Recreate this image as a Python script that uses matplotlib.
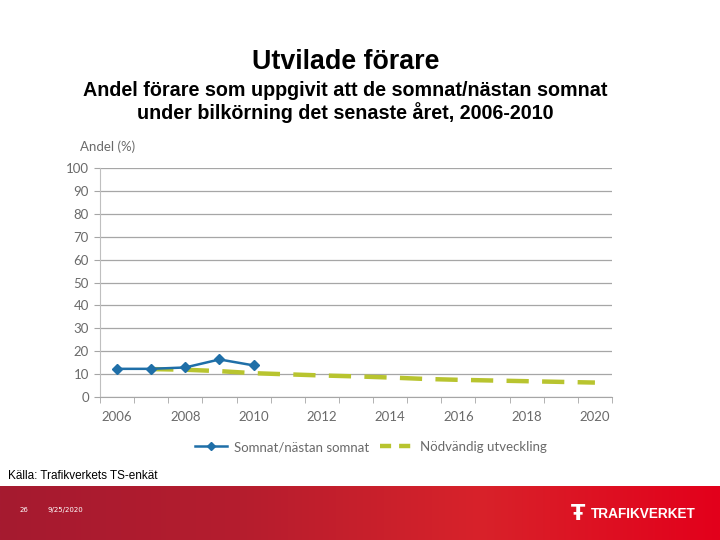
import numpy as np
import matplotlib
matplotlib.use("Agg")
import matplotlib.pyplot as plt
from matplotlib.colors import LinearSegmentedColormap

years = list(range(2006, 2021))
somnat_years = [2006, 2007, 2008, 2009, 2010]
somnat_vals = [12.3, 12.3, 12.9, 16.4, 13.8]
nodv_years = list(range(2007, 2021))
nodv_vals = [12.2, 11.9, 11.3, 10.4, 9.9, 9.4, 9.0, 8.5, 7.9, 7.5, 7.2, 6.9, 6.6, 6.3]
yticks = list(range(0, 101, 10))
xlabels = [str(y) for y in range(2006, 2021, 2)]

fig = plt.figure(figsize=(7.2, 5.4), dpi=100)

# Titles
fig.text(0.48, 1-62/540, "Utvilade förare", ha="center", va="center",
         fontsize=19.3, fontweight="bold", family="Liberation Sans")
fig.text(0.48, 1-90/540, "Andel förare som uppgivit att de somnat/nästan somnat",
         ha="center", va="center", fontsize=14.2, fontweight="bold", family="Liberation Sans")
fig.text(0.48, 1-113/540, "under bilkörning det senaste året, 2006-2010",
         ha="center", va="center", fontsize=14.2, fontweight="bold", family="Liberation Sans")

ax = fig.add_axes([100/720, 1-397/540, 512/720, 229/540])
pos = {y: i for i, y in enumerate(years)}
ax.plot([pos[y] for y in nodv_years], nodv_vals, color="#b8c42f", lw=3.2,
        dashes=(5, 3), zorder=3, label="Nödvändig utveckling")
ax.plot([pos[y] for y in somnat_years], somnat_vals, color="#1f6fa8", lw=1.8,
        marker="D", ms=5.5, zorder=4, label="Somnat/nästan somnat")

ax.set_xlim(-0.5, len(years) - 0.5)
ax.set_ylim(0, 100)
ax.set_yticks(yticks)
ax.set_xticks([pos[int(l)] for l in xlabels])
ax.set_xticklabels(xlabels)
ax.set_xticks(np.arange(-0.5, len(years), 1.0), minor=True)
ax.tick_params(axis="x", which="major", length=0, pad=10, labelsize=9.5, labelcolor="#6a6a6a")
ax.tick_params(axis="x", which="minor", length=4, color="#a6a6a6", direction="out")
ax.tick_params(axis="y", length=4, color="#a6a6a6", labelsize=9.5, labelcolor="#6a6a6a", pad=4)
for lab in ax.get_xticklabels() + ax.get_yticklabels():
    lab.set_family("Lato")
ax.grid(axis="y", color="#a6a6a6", lw=0.9)
ax.set_axisbelow(True)
for s in ["top", "right"]:
    ax.spines[s].set_visible(False)
ax.spines["left"].set_color("#bfbfbf")
ax.spines["bottom"].set_color("#a6a6a6")
ax.text(-0.04, 1.095, "Andel (%)", transform=ax.transAxes, fontsize=9.5,
        color="#6a6a6a", family="Lato", ha="left", va="center")

h, l = ax.get_legend_handles_labels()
leg = fig.legend(h[::-1], l[::-1], loc="center", bbox_to_anchor=(0.515, 1-447/540), ncol=2,
                 frameon=False, handlelength=2.4, columnspacing=0.8, handletextpad=0.6,
                 prop={"family": "Lato", "size": 9.5})
for t in leg.get_texts():
    t.set_color("#6a6a6a")
leg.get_lines()[0].set_markersize(4)
leg.get_lines()[1].set_dashes((2.5, 1.8))

fig.text(8/720, 1-476/540, "Källa: Trafikverkets TS-enkät", fontsize=8.5,
         family="Liberation Sans", va="center", ha="left")

# Footer band
fax = fig.add_axes([0, 0, 1, 54/540])
cmap = LinearSegmentedColormap.from_list("r", ["#a51a30", "#b51d2e", "#d8222a", "#e3001b"])
grad = np.linspace(0, 1, 256).reshape(1, -1)
fax.imshow(grad, aspect="auto", cmap=cmap, extent=[0, 1, 0, 1])
fax.set_xlim(0, 1); fax.set_ylim(0, 1)
fax.axis("off")
fax.text(20/720, 0.55, "26", color="white", fontsize=5, va="center")
fax.text(47/720, 0.55, "9/25/2020", color="white", fontsize=5, va="center")
fax.text(591/720, 0.48, "TRAFIKVERKET", color="white", fontsize=9.8, fontweight="bold",
         family="Liberation Sans", va="center", ha="left")
fax.text(578/720, 0.48, "Ŧ", color="white", fontsize=15, fontweight="bold",
         family="DejaVu Sans", va="center", ha="center")

fig.savefig("out.png", dpi=100)
